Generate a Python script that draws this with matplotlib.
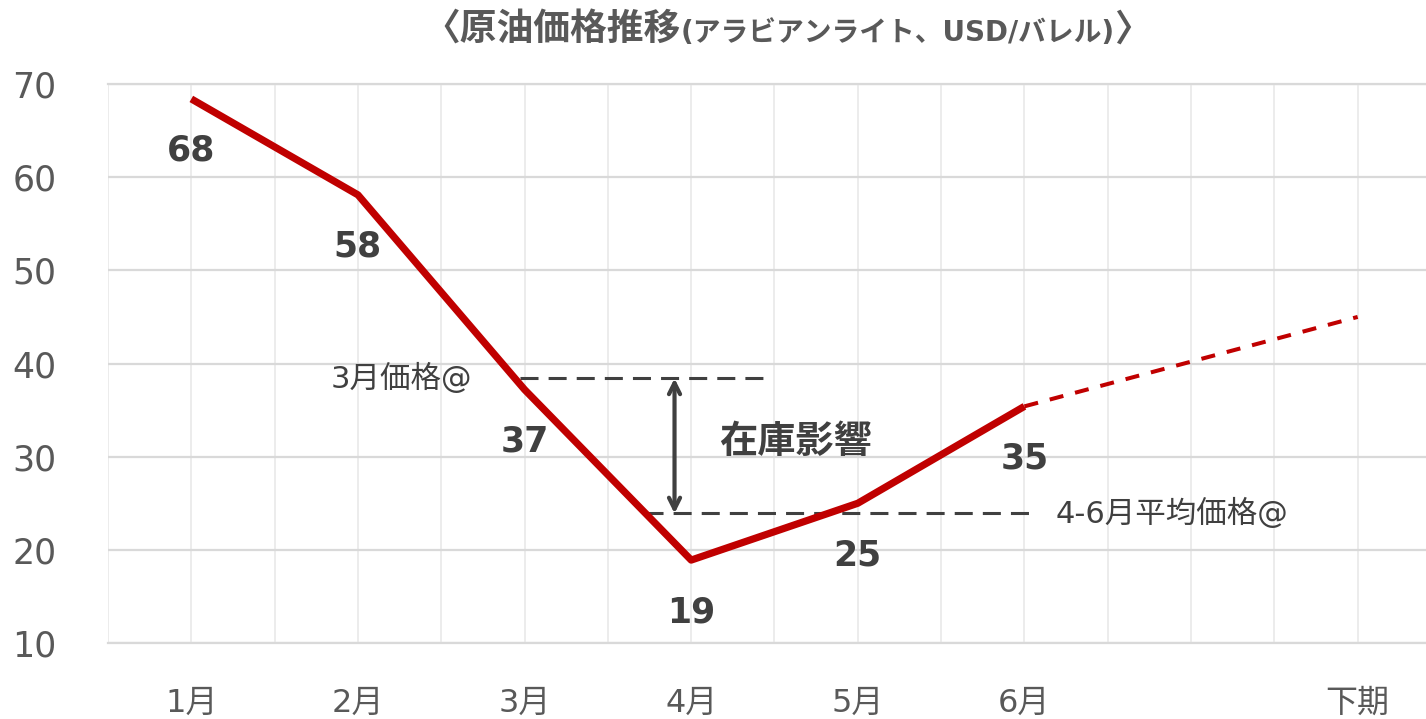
import matplotlib
matplotlib.use("Agg")
import matplotlib.pyplot as plt
from matplotlib.ticker import MultipleLocator, FixedLocator

plt.rcParams['font.family'] = ['DejaVu Sans', 'Noto Sans CJK JP']

# ---- data ----
categories = ['1月', '2月', '3月', '4月', '5月', '6月', '', '下期']
actual_prices = [68.4, 58.1, 37.2, 18.9, 25.0, 35.4]      # 1月..6月
forecast_idx = [5, 7]                                      # 6月 -> 下期
forecast_prices = [35.4, 45.0]
march_ref_price = 38.4
aprjun_avg_price = 23.9

RED = '#c00000'
DARK = '#404040'
GRAY = '#595959'

W, H, DPI = 1426, 719, 100
fig = plt.figure(figsize=(W / DPI, H / DPI), dpi=DPI)
ax = fig.add_axes([108 / W, (H - 643) / H, (W - 108) / W, (643 - 84) / H])

ax.set_xlim(-0.5, 7.41)
ax.set_ylim(10, 70)

# gridlines
ax.xaxis.set_major_locator(FixedLocator(range(len(categories))))
ax.xaxis.set_minor_locator(MultipleLocator(0.5))
ax.yaxis.set_major_locator(MultipleLocator(10))
ax.grid(axis='x', which='both', color='#ebebeb', lw=1.3)
ax.grid(axis='y', which='major', color='#d9d9d9', lw=1.6)
for s in ax.spines.values():
    s.set_visible(False)
ax.axhline(10, color='#d9d9d9', lw=1.6, clip_on=False, zorder=0.5)
ax.axhline(70, color='#d9d9d9', lw=1.6, clip_on=False, zorder=0.5)
ax.set_axisbelow(True)

ax.set_xticklabels(categories)
ax.tick_params(axis='both', which='both', length=0)
ax.tick_params(axis='x', labelsize=23, colors=GRAY, pad=32)
ax.tick_params(axis='y', labelsize=25, colors=GRAY, pad=37)

# lines
x_actual = list(range(len(actual_prices)))
ax.plot(x_actual, actual_prices, color=RED, lw=5.2, solid_joinstyle='round',
        solid_capstyle='butt', zorder=3)
ax.plot(forecast_idx, forecast_prices, color=RED, lw=2.9,
        ls=(0, (3.5, 3.0)), zorder=3)

# data labels
for i, v in zip(x_actual, actual_prices):
    ax.annotate(f"{round(v)}", xy=(i, v), xytext=(0, -52),
                textcoords='offset pixels', ha='center', va='center',
                fontsize=25, fontweight='bold', color=DARK, zorder=4)

# reference dashed lines
ax.plot([1.97, 3.47], [march_ref_price] * 2, color=DARK, lw=2.2,
        ls=(0, (5.9, 3.3)), zorder=2)
ax.plot([2.72, 5.04], [aprjun_avg_price] * 2, color=DARK, lw=2.2,
        ls=(0, (5.9, 3.3)), zorder=2)
ax.text(1.687, march_ref_price, '3月価格@', ha='right', va='center',
        fontsize=22, color=DARK)
ax.text(5.186, aprjun_avg_price, '4-6月平均価格@', ha='left', va='center',
        fontsize=22, color=DARK)

# arrow
ax.annotate('', xy=(2.9, march_ref_price), xytext=(2.9, aprjun_avg_price),
            arrowprops=dict(arrowstyle='<->,head_length=0.8,head_width=0.4',
                            color=DARK, lw=3, shrinkA=0, shrinkB=0))
ax.text(3.625, 31.5, '在庫影響', ha='center', va='center', fontsize=27.5,
        fontweight='bold', color=DARK)

# title (mixed sizes)
parts = [('〈原油価格推移', 26.5), ('(アラビアンライト、USD/バレル)', 20), ('〉', 26.5)]
baseline_px = 41
fig.canvas.draw()
r = fig.canvas.get_renderer()
texts = []
for s, fs in parts:
    t = fig.text(0, 1 - baseline_px / H, s, fontsize=fs, fontweight='bold',
                 color=GRAY, ha='left', va='baseline')
    texts.append(t)
widths = [t.get_window_extent(r).width for t in texts]
total = sum(widths)
x0 = 787 - total / 2
for t, w in zip(texts, widths):
    t.set_x(x0 / W)
    x0 += w

fig.savefig('out.png', dpi=DPI)
